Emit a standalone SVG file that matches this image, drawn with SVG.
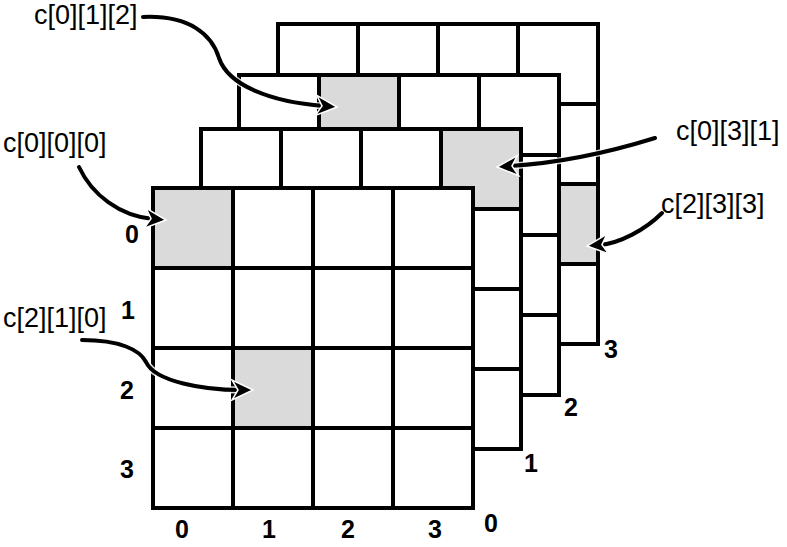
<svg xmlns="http://www.w3.org/2000/svg" xmlns:xlink="http://www.w3.org/1999/xlink" width="787" height="547" viewBox="0 0 787 547">
<style>
.bg{fill:#ffffff}
.hl{fill:#dadada}
.grid{fill:none;stroke:#000;stroke-width:4;stroke-linejoin:miter;stroke-linecap:square}
.arr{fill:none;stroke:#000;stroke-width:4;stroke-linecap:round}
.halo{fill:none;stroke:#fff;stroke-width:7;stroke-linecap:round;opacity:0.85}
.head{fill:#000;stroke:#fff;stroke-width:1.5;stroke-linejoin:miter}
.lbl{font-family:"Liberation Sans",Arial,sans-serif;font-size:27px;fill:#000}
.idx{font-family:"Liberation Sans",Arial,sans-serif;font-size:25px;font-weight:bold;fill:#000;text-anchor:middle}
</style>
<defs>
<path id="gridPath" class="grid" d="M0,0 H320 V320 H0 Z M80,0 V320 M160,0 V320 M240,0 V320 M0,80 H320 M0,160 H320 M0,240 H320"/>
<path id="head" class="head" d="M0,0 L-21,-10 L-15,0 L-21,10 Z"/>
</defs>

<g id="layer3" transform="translate(278,24)">
<rect class="bg" width="320" height="320"/>
<rect class="hl" x="240" y="160" width="80" height="80"/>
<use xlink:href="#gridPath"/>
</g>
<g id="layer2" transform="translate(239,75)">
<rect class="bg" width="320" height="320"/>
<rect class="hl" x="80" y="0" width="80" height="80"/>
<use xlink:href="#gridPath"/>
</g>
<g id="layer1" transform="translate(201,129)">
<rect class="bg" width="320" height="320"/>
<rect class="hl" x="240" y="0" width="80" height="80"/>
<use xlink:href="#gridPath"/>
</g>
<g id="layer0" transform="translate(153,188)">
<rect class="bg" width="320" height="320"/>
<rect class="hl" x="0" y="0" width="80" height="80"/>
<rect class="hl" x="80" y="160" width="80" height="80"/>
<use xlink:href="#gridPath"/>
</g>

<g id="indices">
<text class="idx" x="132" y="243">0</text>
<text class="idx" x="128" y="319">1</text>
<text class="idx" x="127" y="399">2</text>
<text class="idx" x="127" y="478">3</text>
<text class="idx" x="182" y="538">0</text>
<text class="idx" x="269" y="538">1</text>
<text class="idx" x="348" y="538">2</text>
<text class="idx" x="435" y="538">3</text>
<text class="idx" x="491" y="532">0</text>
<text class="idx" x="531" y="472">1</text>
<text class="idx" x="571" y="416">2</text>
<text class="idx" x="611" y="358">3</text>
</g>

<g id="connectors">
<path class="halo" d="M143,17 C190,15 212,35 219,58 C228,85 270,102 322,106"/>
<path class="arr" d="M143,17 C190,15 212,35 219,58 C228,85 270,102 324,106"/>
<use xlink:href="#head" transform="translate(337,107) rotate(4.3)"/>
<path class="halo" d="M79,167 C92,195 120,216 152,219"/>
<path class="arr" d="M79,167 C92,195 120,216 153,219"/>
<use xlink:href="#head" transform="translate(166,220) rotate(5.1)"/>
<path class="halo" d="M655,138 C610,152 560,163 511,166"/>
<path class="arr" d="M655,138 C610,152 560,163 510,166"/>
<use xlink:href="#head" transform="translate(497,167) rotate(176.3)"/>
<path class="halo" d="M662,213 C645,230 620,243 601,245"/>
<path class="arr" d="M662,213 C645,230 620,243 600,245"/>
<use xlink:href="#head" transform="translate(587,246) rotate(174.6)"/>
<path class="halo" d="M82,340 C120,340 140,350 146,362 C155,382 205,390 239,390"/>
<path class="arr" d="M82,340 C120,340 140,350 146,362 C155,382 205,390 240,390"/>
<use xlink:href="#head" transform="translate(253,390)"/>
</g>

<g id="labels">
<text id="lbl-c012" class="lbl" x="34" y="24">c[0][1][2]</text>
<text id="lbl-c000" class="lbl" x="3" y="152">c[0][0][0]</text>
<text id="lbl-c031" class="lbl" x="676" y="140">c[0][3][1]</text>
<text id="lbl-c233" class="lbl" x="661" y="213">c[2][3][3]</text>
<text id="lbl-c210" class="lbl" x="3" y="327">c[2][1][0]</text>
</g>
</svg>
